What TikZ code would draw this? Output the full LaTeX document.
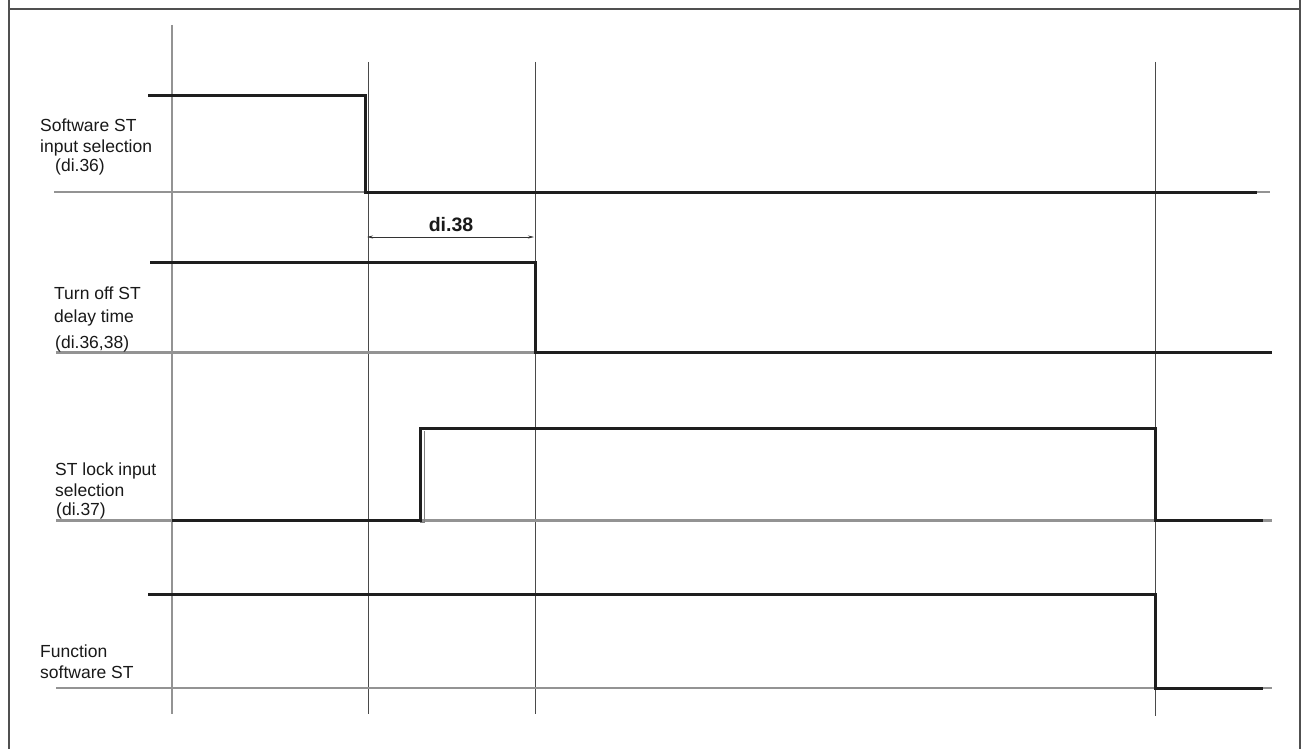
\documentclass[tikz,border=0pt]{standalone}
\usepackage{fontspec}
\setmainfont{Liberation Sans}
\usetikzlibrary{arrows.meta}
\definecolor{sigc}{HTML}{1E1E1E}
\definecolor{basec}{HTML}{939393}
\definecolor{gridc}{HTML}{4A4A4A}
\definecolor{framec}{HTML}{505050}
\begin{document}
\begin{tikzpicture}[x=1pt,y=-1pt,
  frameline/.style={framec,line width=1.6pt},
  gridline/.style={gridc,line width=1pt},
  axisline/.style={basec,line width=2.6pt},
  baseline/.style={basec,line width=2.2pt},
  signal/.style={sigc,line width=3pt,line join=miter,line cap=butt},
  lbl/.style={anchor=base west,inner sep=0pt,font=\fontsize{17.5}{21}\selectfont,text=black!90},
  dimlbl/.style={anchor=base,inner sep=0pt,font=\fontsize{19.5}{23}\selectfont\bfseries,text=black!90},
  dimline/.style={black!80,line width=0.7pt,{Stealth[length=6pt,width=3pt]}-{Stealth[length=6pt,width=3pt]}}]
\useasboundingbox (0,0) rectangle (1303,749);
\fill[white] (0,0) rectangle (1303,749);
% frame
\draw[frameline] (9,0) -- (9,749);
\draw[frameline] (1300,0) -- (1300,749);
\draw[frameline] (9,9) -- (1300,9);
% vertical time markers
\draw[axisline] (172,25) -- (172,714);
\draw[gridline] (368,62) -- (368,714);
\draw[gridline] (535,62) -- (535,714);
\draw[gridline] (1155,62) -- (1155,716);
% signal 1
\draw[baseline] (54,192) -- (1270,192);
\draw[signal] (148,96) -- (365,96) -- (365,192) -- (1257,192);
\node[lbl] (l1a) at (40,131.5) {Software ST};
\node[lbl] (l1b) at (40,152.5) {input selection};
\node[lbl] (l1c) at (55,171) {(di.36)};
% dimension di.38
\coordinate (d1) at (367,237);
\coordinate (d2) at (534,237);
\draw[dimline] (d1) -- (d2);
\node[dimlbl] (dl) at (451,231) {di.38};
% signal 2
\draw[baseline] (56,352.5) -- (1272,352.5);
\draw[signal] (150,262) -- (535,262) -- (535,352.5) -- (1272,352.5);
\node[lbl] (l2a) at (54,299) {Turn off ST};
\node[lbl] (l2b) at (54,322) {delay time};
\node[lbl] (l2c) at (55,348) {(di.36,38)};
% signal 3
\draw[baseline] (56,520.5) -- (1272,520.5);
\draw[signal] (172,520.5) -- (420,520.5) -- (420,428.5) -- (1155,428.5) -- (1155,520.5) -- (1263,520.5);
\draw[gridc!70,line width=1pt] (420,522.5) -- (424.5,522.5) -- (424.5,431);
\node[lbl] (l3a) at (55,475) {ST lock input};
\node[lbl] (l3b) at (55,496) {selection};
\node[lbl] (l3c) at (56,515) {(di.37)};
% signal 4
\draw[baseline] (56,688) -- (1272,688);
\draw[signal] (148,594) -- (1155,594) -- (1155,688) -- (1263,688);
\node[lbl] (l4a) at (40,657) {Function};
\node[lbl] (l4b) at (40,678) {software ST};
\end{tikzpicture}
\end{document}
